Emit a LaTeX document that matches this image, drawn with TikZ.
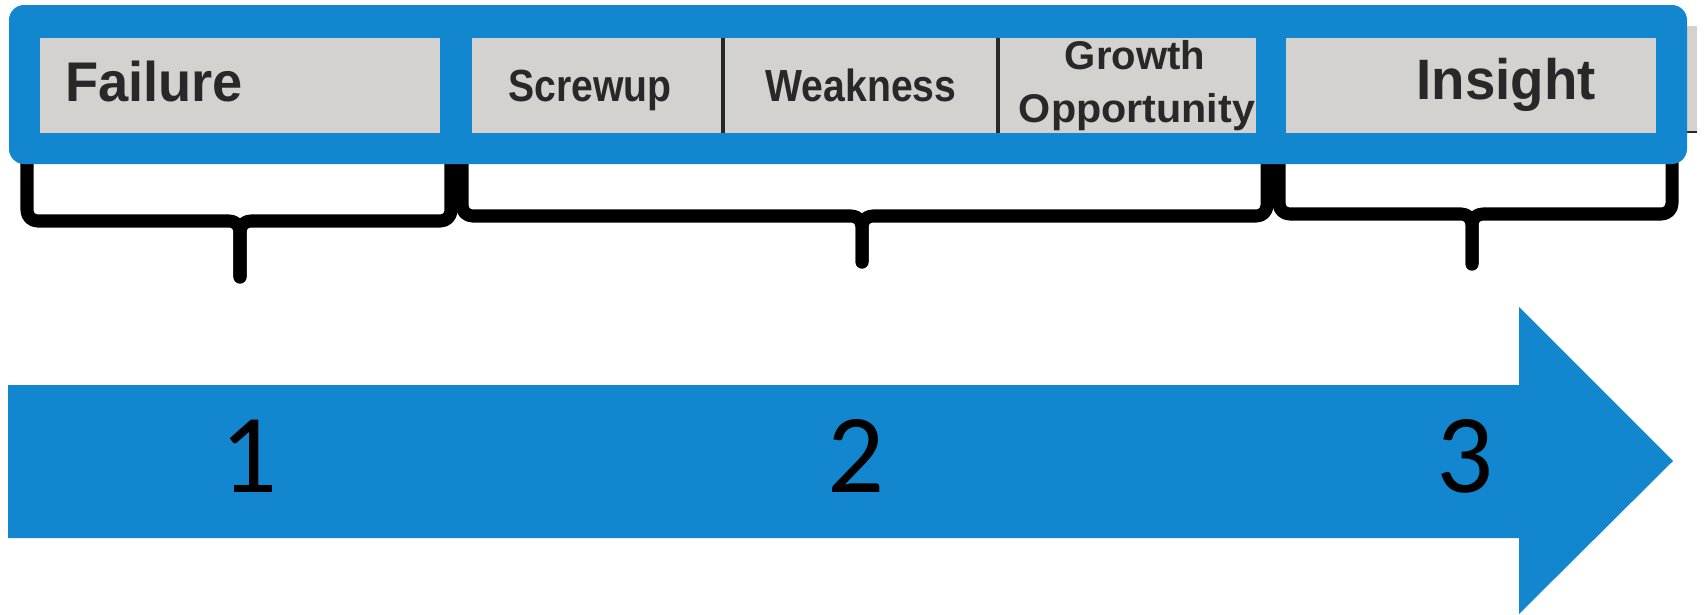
\documentclass[tikz,border=0pt]{standalone}
\usepackage{fontspec}
\newfontfamily\labfont{Liberation Sans}
\newfontfamily\numfont{Carlito}
\definecolor{frameblue}{RGB}{18,134,206}
\definecolor{paper}{RGB}{212,210,207}
\definecolor{ink}{RGB}{40,40,40}
\tikzset{
  bracepath/.style={line width=3.7pt, line cap=round, line join=round, black, rounded corners=3pt},
  lbl/.style={font=\labfont\bfseries, text=ink, inner sep=0pt, anchor=base},
  numlbl/.style={font=\numfont\fontsize{32pt}{36pt}\selectfont, text=black, inner sep=0pt, anchor=base},
  divider/.style={line width=0.9pt, ink}
}
\begin{document}
\begin{tikzpicture}[x=0.01cm,y=-0.01cm]
\useasboundingbox (0,0) rectangle (1705,615);
% braces
\draw[bracepath] (27,150) |- (240,221) -- (240,277);
\draw[bracepath] (451,150) |- (240,221) -- (240,277);
\draw[bracepath] (462,150) |- (862,216) -- (862,262);
\draw[bracepath] (1267,150) |- (862,216) -- (862,262);
\draw[bracepath] (1279,150) |- (1472,214) -- (1472,264);
\draw[bracepath] (1672,150) |- (1472,214) -- (1472,264);
% sliver of paper outside the frame
\fill[paper] (1680,26) rectangle (1697,133);
\draw[line width=0.6pt, ink] (1680,132) -- (1697,132);
% frame
\fill[frameblue, rounded corners=4.3pt] (9,5) rectangle (1687,164);
% paper boxes
\fill[paper] (40,38) rectangle (440,133);
\fill[paper] (472,38) rectangle (1256,133);
\fill[paper] (1286,38) rectangle (1656,133);
\draw[divider] (723,38) -- (723,133);
\draw[divider] (998,38) -- (998,133);
% labels
\node[lbl, font=\labfont\bfseries\fontsize{15.9pt}{18pt}\selectfont, xscale=0.97] (failure) at (154,101) {Failure};
\node[lbl, font=\labfont\bfseries\fontsize{12.8pt}{15pt}\selectfont, xscale=0.87] (screwup) at (590,101) {Screwup};
\node[lbl, font=\labfont\bfseries\fontsize{12.8pt}{15pt}\selectfont, xscale=0.87] (weakness) at (861,101) {Weakness};
\node[lbl, font=\labfont\bfseries\fontsize{11.4pt}{14pt}\selectfont, xscale=1.0] (growth) at (1135,70) {Growth};
\node[lbl, font=\labfont\bfseries\fontsize{11.4pt}{14pt}\selectfont, xscale=1.03] (opportunity) at (1137,123) {Opportunity};
\node[lbl, font=\labfont\bfseries\fontsize{16.2pt}{19pt}\selectfont, xscale=0.96] (insight) at (1506,100) {Insight};
% arrow
\fill[frameblue] (8,385) -- (1519,385) -- (1519,307) -- (1673,461) -- (1519,614) -- (1519,538) -- (8,538) -- cycle;
\node[numlbl] (n1) at (249,492) {1};
\node[numlbl] (n2) at (856,492) {2};
\node[numlbl] (n3) at (1465,492) {3};
\end{tikzpicture}
\end{document}
